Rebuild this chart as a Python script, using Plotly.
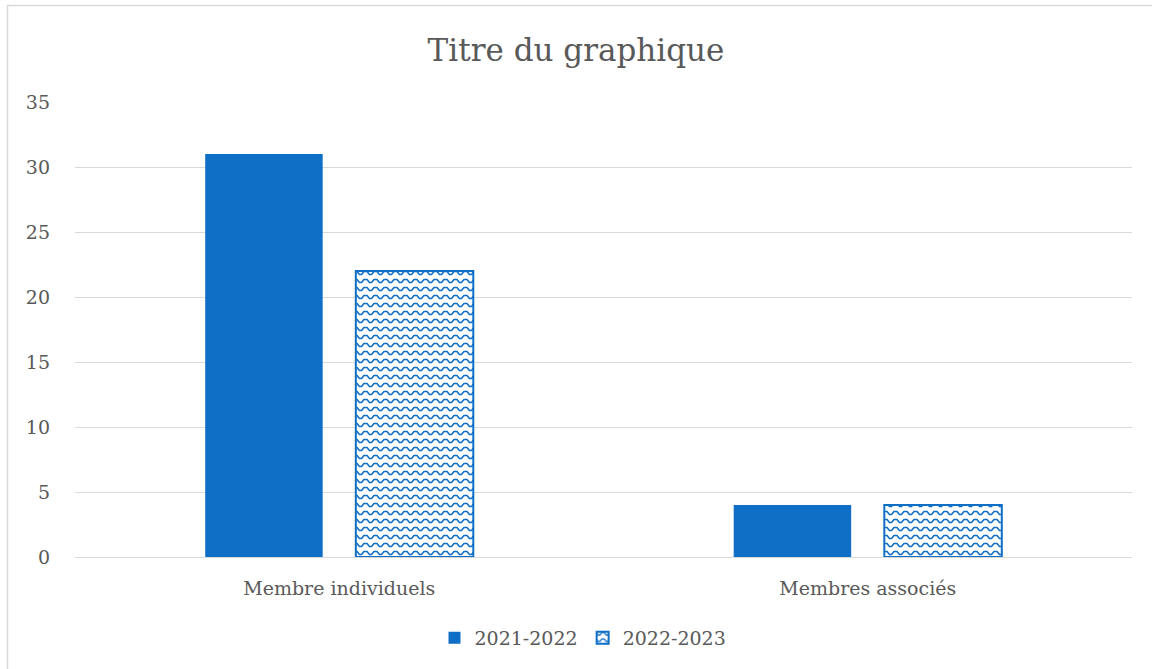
import plotly.graph_objects as go

categories = ["Membre individuels", "Membres associés"]
series_names = ["2021-2022", "2022-2023"]
values_2021 = [31, 4]
values_2022 = [22, 4]

BLUE = "#0F6FC6"
GRAY = "#595959"
FONT = "DejaVu Serif"

fig = go.Figure()
fig.add_trace(go.Bar(
    x=categories, y=values_2021, name=series_names[0],
    marker=dict(color=BLUE, line=dict(width=0)),
))
fig.add_trace(go.Bar(
    x=categories, y=values_2022, name=series_names[1],
    marker=dict(color="white", line=dict(color=BLUE, width=2),
                pattern=dict(shape="-", fgcolor=BLUE, bgcolor="white", size=8, solidity=0.25)),
))

L, R, T, B = 75, 20, 102, 112
W, H = 1152, 669
pw, ph = W - L - R, H - T - B

def px_x(p):
    return (p - L) / pw

def px_y(p):
    return (H - B - p) / ph

fig.update_layout(
    width=W, height=H,
    margin=dict(l=L, r=R, t=T, b=B),
    paper_bgcolor="white", plot_bgcolor="white",
    barmode="group", bargap=0.43, bargroupgap=0.22,
    font=dict(family=FONT, color=GRAY, size=19),
    title=dict(text="Titre du graphique", x=0.5, xanchor="center",
               y=1 - 50 / H, yanchor="middle",
               font=dict(family=FONT, size=31, color=GRAY)),
    showlegend=True,
    legend=dict(orientation="h", x=px_x(583), xanchor="center", y=px_y(638), yanchor="middle",
                font=dict(family=FONT, size=19, color=GRAY), itemwidth=30,
                bgcolor="rgba(0,0,0,0)"),
    xaxis=dict(showgrid=False, showline=True, linecolor="#D9D9D9", linewidth=1,
               ticks="", ticklabelstandoff=14, tickfont=dict(size=19, color=GRAY)),
    yaxis=dict(range=[0, 35], dtick=5, showgrid=True, gridcolor="#D9D9D9", gridwidth=1,
               zeroline=False, showline=False, ticks="", ticklabelstandoff=24,
               tickfont=dict(size=19, color=GRAY)),
    shapes=[dict(type="rect", xref="paper", yref="paper",
                 x0=px_x(7.5), x1=px_x(1170), y0=px_y(690), y1=px_y(5.5),
                 line=dict(color="#D9D9D9", width=1.5), fillcolor="rgba(0,0,0,0)", layer="below")],
)

post = """
document.body.style.margin = '0';
document.body.style.overflow = 'hidden';
var gd = document.getElementById('{plot_id}');
function wave(){
  var pats = document.querySelectorAll('pattern');
  pats.forEach(function(p){
    p.setAttribute('width', '10');
    p.setAttribute('height', '8');
    p.setAttribute('patternUnits', 'userSpaceOnUse');
    p.innerHTML = '<rect x="0" y="0" width="10" height="8" fill="white"></rect>' +
      '<path d="M-1,1.5 L2,1.5 L4.5,4.5 L6.5,4.5 L9,1.5 L11,1.5" stroke="#0F6FC6" stroke-width="1.6" fill="none"></path>';
  });
}
wave();
if (gd && gd.on) { gd.on('plotly_afterplot', wave); }
"""

fig.write_html("out.html", post_script=post, config={"displayModeBar": False})
